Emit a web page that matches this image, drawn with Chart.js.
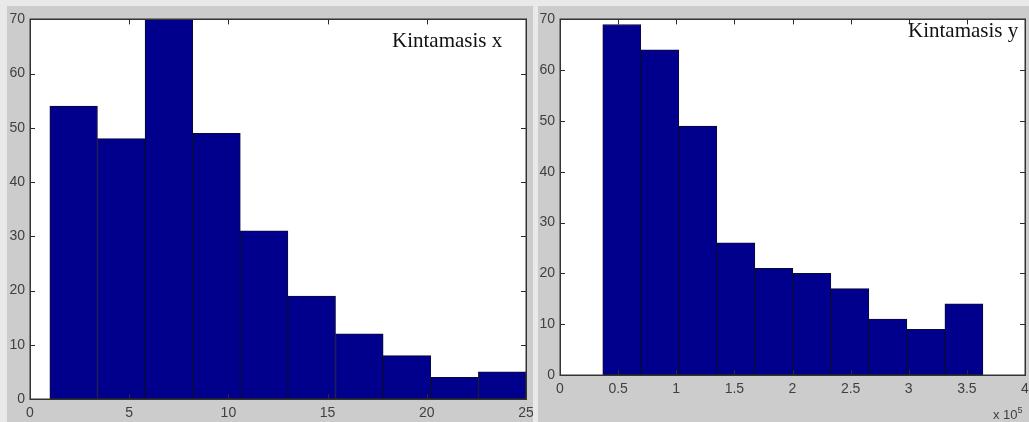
<!DOCTYPE html>
<html>
<head>
<meta charset="utf-8">
<script src="https://cdn.jsdelivr.net/npm/chart.js@4/dist/chart.umd.min.js"></script>
<style>
  html,body{margin:0;padding:0;}
  body{width:1029px;height:422px;background:#e9e9e9;position:relative;overflow:hidden;font-family:"Liberation Sans",Arial,sans-serif;}
  .panel{position:absolute;background:#cccccc;}
  .ttl{position:absolute;font-family:"Liberation Serif","Times New Roman",serif;font-size:21px;line-height:21px;color:#111;white-space:nowrap;}
  .exp{position:absolute;font-size:13px;line-height:13px;color:#404040;white-space:nowrap;}
</style>
</head>
<body>
<div class="panel" id="p1" style="left:7px;top:6px;width:526px;height:416px;"><canvas id="c1" width="526" height="416"></canvas></div>
<div class="panel" id="p2" style="left:538px;top:6px;width:491px;height:416px;"><canvas id="c2" width="491" height="416"></canvas></div>
<div class="ttl" style="left:392px;top:30px;">Kintamasis x</div>
<div class="ttl" style="left:908px;top:20px;">Kintamasis y</div>
<div class="exp" style="left:993px;top:404px;">x 10<sup style="font-size:9px;vertical-align:6px;">5</sup></div>
<script>
// ---- data ----
const binEdgesX = [1, 3.4, 5.8, 8.2, 10.6, 13, 15.4, 17.8, 20.2, 22.6, 25];
const countsX   = [54, 48, 70, 49, 31, 19, 12, 8, 4, 5];
const binEdgesY = [0.368, 0.695, 1.022, 1.349, 1.676, 2.003, 2.33, 2.657, 2.984, 3.311, 3.638]; // x 10^5
const countsY   = [69, 64, 49, 26, 21, 20, 17, 11, 9, 14];
const xTicksLeft  = [0, 5, 10, 15, 20, 25];
const yTicksLeft  = [0, 10, 20, 30, 40, 50, 60, 70];
const xTicksRight = [0, 0.5, 1, 1.5, 2, 2.5, 3, 3.5, 4];
const yTicksRight = [0, 10, 20, 30, 40, 50, 60, 70];

function toPoints(edges, counts){
  return counts.map((c,i)=>({x:(edges[i]+edges[i+1])/2, y:c}));
}

const frameTicks = {
  id:'frameTicks',
  afterDraw(chart){
    const {ctx, chartArea:a, scales} = chart;
    ctx.save();
    ctx.strokeStyle = '#2a2a2a';
    ctx.lineWidth = 1;
    const L = 5;
    ctx.beginPath();
    scales.x.ticks.forEach(t=>{
      const px = Math.round(scales.x.getPixelForValue(t.value))+0.5;
      ctx.moveTo(px, a.bottom); ctx.lineTo(px, a.bottom-L);
      ctx.moveTo(px, a.top); ctx.lineTo(px, a.top+L);
    });
    scales.y.ticks.forEach(t=>{
      const py = Math.round(scales.y.getPixelForValue(t.value))+0.5;
      ctx.moveTo(a.left, py); ctx.lineTo(a.left+L, py);
      ctx.moveTo(a.right, py); ctx.lineTo(a.right-L, py);
    });
    ctx.stroke();
    ctx.lineWidth = 1.5;
    ctx.strokeStyle = '#333';
    ctx.strokeRect(Math.round(a.left)+0.25, Math.round(a.top)+0.25, Math.round(a.right-a.left), Math.round(a.bottom-a.top));
    ctx.restore();
  }
};
const whiteArea = {
  id:'whiteArea',
  beforeDraw(chart){
    const {ctx, chartArea:a} = chart;
    ctx.save(); ctx.fillStyle='#ffffff';
    ctx.fillRect(a.left, a.top, a.right-a.left, a.bottom-a.top);
    ctx.restore();
  }
};

const tickFont = {family:'"Liberation Sans", Arial, sans-serif', size:14};

function makeChart(id, edges, counts, xt, yt, opts){
  return new Chart(document.getElementById(id), {
    type:'bar',
    data:{datasets:[{
      data: toPoints(edges, counts),
      backgroundColor:'#00008c',
      borderColor:'#0a0a3a',
      borderWidth:1,
      barPercentage:1,
      categoryPercentage:1,
      borderSkipped:false
    }]},
    options:{
      responsive:false,
      animation:false,
      layout:{padding:{top:opts.top, right:opts.right, left:0, bottom:0}},
      plugins:{legend:{display:false}, tooltip:{enabled:false}},
      scales:{
        x:{
          type:'linear', offset:false, min:xt[0], max:xt[xt.length-1],
          afterBuildTicks(s){ s.ticks = xt.map(v=>({value:v})); },
          afterFit(s){ s.height = opts.xh; s.paddingLeft=0; s.paddingRight=0; },
          grid:{display:false, drawTicks:false}, border:{display:false},
          ticks:{padding:opts.xpad, color:'#404040', font:tickFont, maxRotation:0, autoSkip:false, callback:v=>String(v)}
        },
        y:{
          type:'linear', min:yt[0], max:yt[yt.length-1],
          afterBuildTicks(s){ s.ticks = yt.map(v=>({value:v})); },
          afterFit(s){ s.width = opts.yw; },
          grid:{display:false, drawTicks:false}, border:{display:false},
          ticks:{padding:5, color:'#404040', font:tickFont, callback:v=>String(v)}
        }
      }
    },
    plugins:[whiteArea, frameTicks]
  });
}

makeChart('c1', binEdgesX, countsX, xTicksLeft, yTicksLeft, {top:8, right:7, xh:23, yw:23, xpad:6});
makeChart('c2', binEdgesY, countsY, xTicksRight, yTicksRight, {top:8, right:4, xh:47, yw:22, xpad:6});
</script>
</body>
</html>
